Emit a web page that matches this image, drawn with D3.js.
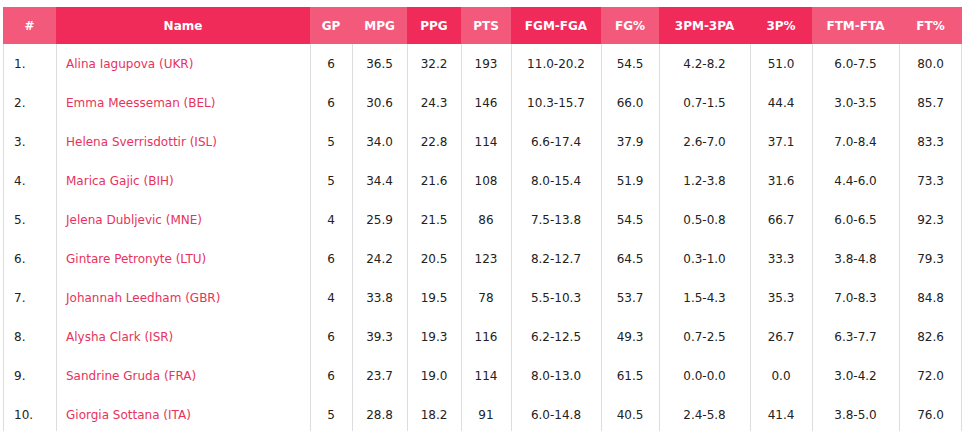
<!DOCTYPE html>
<html>
<head>
<meta charset="utf-8">
<script src="https://cdn.jsdelivr.net/npm/d3@7"></script>
<style>
  html, body { margin: 0; padding: 0; background: #fff; }
  svg { display: block; font-family: "DejaVu Sans", Verdana, sans-serif; }
</style>
</head>
<body>
<div id="chart"></div>
<script>
// ---- data ----
const ranks = ["1.", "2.", "3.", "4.", "5.", "6.", "7.", "8.", "9.", "10."];
const names = ["Alina Iagupova (UKR)", "Emma Meesseman (BEL)", "Helena Sverrisdottir (ISL)", "Marica Gajic (BIH)", "Jelena Dubljevic (MNE)", "Gintare Petronyte (LTU)", "Johannah Leedham (GBR)", "Alysha Clark (ISR)", "Sandrine Gruda (FRA)", "Giorgia Sottana (ITA)"];
const gp = [6, 6, 5, 5, 4, 6, 4, 6, 6, 5];
const mpg = ["36.5", "30.6", "34.0", "34.4", "25.9", "24.2", "33.8", "39.3", "23.7", "28.8"];
const ppg = ["32.2", "24.3", "22.8", "21.6", "21.5", "20.5", "19.5", "19.3", "19.0", "18.2"];
const pts = [193, 146, 114, 108, 86, 123, 78, 116, 114, 91];
const fgmFga = ["11.0-20.2", "10.3-15.7", "6.6-17.4", "8.0-15.4", "7.5-13.8", "8.2-12.7", "5.5-10.3", "6.2-12.5", "8.0-13.0", "6.0-14.8"];
const fgPct = ["54.5", "66.0", "37.9", "51.9", "54.5", "64.5", "53.7", "49.3", "61.5", "40.5"];
const tpmTpa = ["4.2-8.2", "0.7-1.5", "2.6-7.0", "1.2-3.8", "0.5-0.8", "0.3-1.0", "1.5-4.3", "0.7-2.5", "0.0-0.0", "2.4-5.8"];
const tpPct = ["51.0", "44.4", "37.1", "31.6", "66.7", "33.3", "35.3", "26.7", "0.0", "41.4"];
const ftmFta = ["6.0-7.5", "3.0-3.5", "7.0-8.4", "4.4-6.0", "6.0-6.5", "3.8-4.8", "7.0-8.3", "6.3-7.7", "3.0-4.2", "3.8-5.0"];
const ftPct = ["80.0", "85.7", "83.3", "73.3", "92.3", "79.3", "84.8", "82.6", "72.0", "76.0"];
const headers = ["#", "Name", "GP", "MPG", "PPG", "PTS", "FGM-FGA", "FG%", "3PM-3PA", "3P%", "FTM-FTA", "FT%"];

// ---- layout ----
const W = 964, H = 431;
const left = 3, headerTop = 7, headerH = 37, rowH = 39;
const colWidths = [53, 254, 42, 55, 54, 50, 90, 58, 91, 62, 87, 63];
const colAlign = ["start", "start", "middle", "middle", "middle", "middle", "middle", "middle", "middle", "middle", "middle", "middle"];
const headerShade = [0, 1, 0, 0, 1, 0, 1, 0, 1, 1, 0, 0];
const shadeColors = ["#f2597b", "#f02a59"];
const nameColor = "#e8325c";
const textColor = "#222";
const borderColor = "#dddddd";

const columnsData = [ranks, names, gp, mpg, ppg, pts, fgmFga, fgPct, tpmTpa, tpPct, ftmFta, ftPct];

const colStarts = [];
colWidths.reduce((acc, w) => { colStarts.push(acc); return acc + w; }, left);
const totalW = d3.sum(colWidths);

const xCol = d3.scaleOrdinal().domain(d3.range(headers.length)).range(colStarts);
const bodyTop = headerTop + headerH;
const y = d3.scaleBand().domain(d3.range(names.length)).range([bodyTop, bodyTop + rowH * names.length]).padding(0);

const svg = d3.select("#chart").append("svg").attr("width", W).attr("height", H);

// header cells
const hdr = svg.append("g");
hdr.selectAll("rect").data(headers).join("rect")
  .attr("x", (d, i) => xCol(i))
  .attr("y", headerTop)
  .attr("width", (d, i) => colWidths[i])
  .attr("height", headerH)
  .attr("fill", (d, i) => shadeColors[headerShade[i]]);
hdr.selectAll("text").data(headers).join("text")
  .attr("x", (d, i) => xCol(i) + colWidths[i] / 2)
  .attr("y", headerTop + headerH / 2)
  .attr("dy", "0.36em")
  .attr("text-anchor", "middle")
  .attr("fill", "#fff")
  .attr("font-weight", "bold")
  .attr("font-size", 12)
  .text(d => d);

// body vertical borders
const bodyBottom = bodyTop + rowH * names.length;
const borderXs = colStarts.concat([left + totalW - 1]);
svg.append("g").selectAll("line").data(borderXs).join("line")
  .attr("x1", d => d + 0.5).attr("x2", d => d + 0.5)
  .attr("y1", bodyTop).attr("y2", bodyBottom)
  .attr("stroke", borderColor).attr("stroke-width", 1);

// body cells
const body = svg.append("g");
columnsData.forEach((col, ci) => {
  body.append("g").selectAll("text").data(col).join("text")
    .attr("x", () => colAlign[ci] === "start" ? xCol(ci) + (ci === 0 ? 11 : 10) : xCol(ci) + colWidths[ci] / 2)
    .attr("y", (d, ri) => y(ri) + y.bandwidth() / 2)
    .attr("dy", "0.36em")
    .attr("text-anchor", colAlign[ci])
    .attr("font-size", 12)
    .attr("fill", ci === 1 ? nameColor : textColor)
    .text(d => d);
});
</script>
</body>
</html>
